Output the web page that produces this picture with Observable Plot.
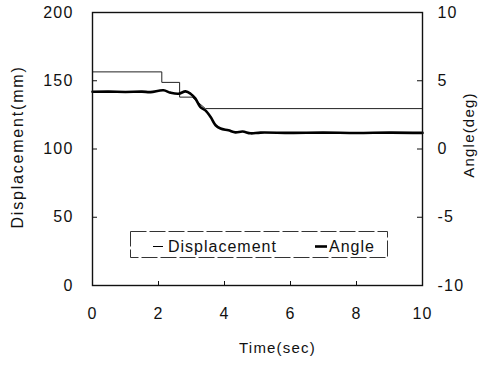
<!DOCTYPE html>
<html>
<head>
<meta charset="utf-8">
<script src="https://cdn.jsdelivr.net/npm/d3@7"></script>
<script src="https://cdn.jsdelivr.net/npm/@observablehq/plot@0.6"></script>
<style>
  html, body { margin: 0; padding: 0; background: #fff; }
  #wrap { position: relative; width: 493px; height: 366px; font-family: "Liberation Sans", Arial, sans-serif; }
  #legend { position: absolute; left: 130px; top: 231px; width: 258px; height: 27px; }
  .spaced text { letter-spacing: 1.2px; }
  .spaced .ttl-left text { letter-spacing: 1.8px; }
</style>
</head>
<body>
<div id="wrap"></div>
<script>
// ---- data ----
const dispTime = [0, 2.1, 2.1, 2.64, 2.64, 3.02, 3.42, 10];
const dispValue = [156.5, 156.5, 148.8, 148.8, 138, 138, 129.6, 129.6];

const angleTime = [0, 0.5, 1.0, 1.5, 1.76, 2.15, 2.36, 2.61, 2.82, 2.97, 3.12, 3.27, 3.42, 3.58, 3.73, 3.88, 4.12, 4.33, 4.55, 4.79, 5.09, 6, 7, 8, 9, 10];
const angleValue = [4.19, 4.2, 4.18, 4.2, 4.17, 4.30, 4.13, 4.05, 4.22, 4.05, 3.69, 3.07, 2.83, 2.34, 1.74, 1.50, 1.37, 1.22, 1.28, 1.15, 1.20, 1.18, 1.2, 1.17, 1.2, 1.18];

const xTicks = [0, 2, 4, 6, 8, 10];
const leftTicks = [0, 50, 100, 150, 200];
const rightTicks = [-10, -5, 0, 5, 10];

const xTitle = "Time(sec)";
const leftTitle = "Displacement(mm)";
const rightTitle = "Angle(deg)";
const seriesNames = ["Displacement", "Angle"];

// ---- tables ----
const disp = dispTime.map((t, i) => ({t, v: dispValue[i]}));
const angleToLeft = a => (a + 10) * 10; // right axis -10..10 onto left 0..200
const leftToAngle = v => Math.round(v / 10 - 10);
const angle = angleTime.map((t, i) => ({t, v: angleToLeft(angleValue[i])}));

const W = 493, H = 366, mL = 92, mR = 71, mT = 12, mB = 81;
const fw = W - mL - mR, fh = H - mT - mB;
const font = 16;

const chart = Plot.plot({
  width: W, height: H,
  marginLeft: mL, marginRight: mR, marginTop: mT, marginBottom: mB,
  className: "spaced",
  style: {fontFamily: '"Liberation Sans", Arial, sans-serif', fontSize: font + "px", color: "#111", background: "#fff"},
  x: {domain: [0, 10]},
  y: {domain: [0, 200]},
  marks: [
    Plot.axisX({ticks: xTicks, tickSize: 0, tickPadding: 22, fontSize: font, label: null}),
    Plot.axisY({ticks: leftTicks, tickSize: 0, tickPadding: 19, fontSize: font, label: null, anchor: "left"}),
    Plot.axisY({ticks: rightTicks.map(angleToLeft), tickFormat: d => String(leftToAngle(d)), tickSize: 0, tickPadding: 15, fontSize: font, label: null, anchor: "right", textAnchor: "start"}),
    // inward ticks
    Plot.ruleX(xTicks, {x: d => d, insetTop: fh - 4, stroke: "#111"}),
    Plot.ruleY(leftTicks, {y: d => d, insetRight: fw - 5, stroke: "#111"}),
    Plot.ruleY(rightTicks.map(angleToLeft), {y: d => d, insetLeft: fw - 5, stroke: "#111"}),
    Plot.line(disp, {x: "t", y: "v", stroke: "#222", strokeWidth: 1}),
    Plot.line(angle, {x: "t", y: "v", stroke: "#000", strokeWidth: 2.6, curve: "catmull-rom"}),
    Plot.frame({stroke: "#111", strokeWidth: 1.4}),
    Plot.text([leftTitle], {text: d => d, frameAnchor: "left", textAnchor: "middle", dx: -75, dy: -2, rotate: -90, fontSize: 16, className: "ttl-left"}),
    Plot.text([rightTitle], {text: d => d, frameAnchor: "right", textAnchor: "middle", dx: 47, dy: -14, rotate: -90, fontSize: 15}),
    Plot.text([xTitle], {text: d => d, frameAnchor: "bottom", textAnchor: "middle", dy: 67, dx: 20, fontSize: 15})
  ]
});
document.getElementById("wrap").appendChild(chart);

// ---- legend (inside the plot area) ----
const legend = d3.select("#wrap").append("svg").attr("id", "legend")
  .attr("width", 258).attr("height", 27);
legend.append("rect").attr("x", 0.5).attr("y", 0.5).attr("width", 257).attr("height", 26)
  .attr("fill", "none").attr("stroke", "#333").attr("stroke-width", 1).attr("stroke-dasharray", "16 3");
const items = [
  {name: seriesNames[0], x: 23, w: 1, len: 10, gap: 5},
  {name: seriesNames[1], x: 185, w: 2.6, len: 12, gap: 2}
];
items.forEach(it => {
  legend.append("line").attr("x1", it.x).attr("x2", it.x + it.len).attr("y1", 15.5).attr("y2", 15.5)
    .attr("stroke", "#000").attr("stroke-width", it.w);
  legend.append("text").attr("x", it.x + it.len + it.gap).attr("y", 21)
    .attr("font-family", '"Liberation Sans", Arial, sans-serif').attr("font-size", 16)
    .attr("letter-spacing", "1px").attr("fill", "#111").text(it.name);
});
</script>
</body>
</html>
